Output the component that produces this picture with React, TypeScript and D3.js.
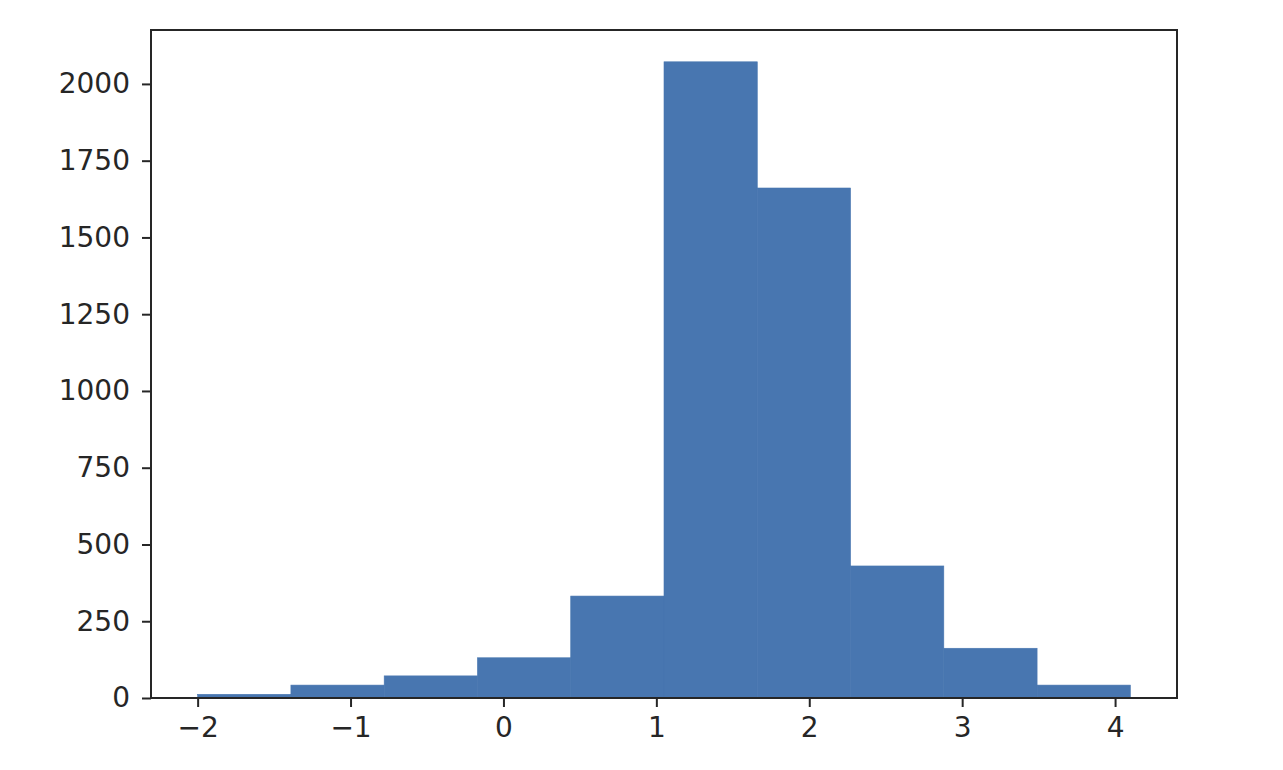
import React, { useEffect, useRef } from 'react';
import * as d3 from 'd3';

// histogram bin edges and counts
const binEdges = [-2.0, -1.39, -0.78, -0.17, 0.44, 1.05, 1.66, 2.27, 2.88, 3.49, 4.1];
const binCounts = [12, 42, 72, 131, 332, 2072, 1661, 430, 162, 42];
const xTicks = [-2, -1, 0, 1, 2, 3, 4];
const yTicks = [0, 250, 500, 750, 1000, 1250, 1500, 1750, 2000];

const App = () => {
  const svgRef = useRef<SVGSVGElement>(null);

  useEffect(() => {
    const W = 1283;
    const H = 770;
    const margin = { top: 30, right: 106, bottom: 72, left: 151 };
    const width = W - margin.left - margin.right;
    const height = H - margin.top - margin.bottom;

    const svg = d3.select(svgRef.current)
      .attr('width', W)
      .attr('height', H)
      .html('');

    svg.append('rect').attr('width', W).attr('height', H).attr('fill', '#fff');

    const g = svg.append('g').attr('transform', `translate(${margin.left},${margin.top})`);

    const span = binEdges[binEdges.length - 1] - binEdges[0];
    const x = d3.scaleLinear()
      .domain([binEdges[0] - span * 0.05, binEdges[binEdges.length - 1] + span * 0.05])
      .range([0, width]);
    const y = d3.scaleLinear()
      .domain([0, d3.max(binCounts)! * 1.05])
      .range([height, 0]);

    const bins = binCounts.map((c, i) => ({ x0: binEdges[i], x1: binEdges[i + 1], count: c }));

    g.selectAll('rect.bar')
      .data(bins)
      .enter()
      .append('rect')
      .attr('class', 'bar')
      .attr('x', d => x(d.x0))
      .attr('width', d => x(d.x1) - x(d.x0))
      .attr('y', d => y(d.count))
      .attr('height', d => height - y(d.count))
      .attr('fill', '#4876b0')
      .attr('stroke', '#4876b0')
      .attr('stroke-width', 0.6);

    const font = '"DejaVu Sans", sans-serif';

    const xAxis = g.append('g')
      .attr('transform', `translate(0,${height})`)
      .call(d3.axisBottom(x).tickValues(xTicks).tickSize(9).tickPadding(10)
        .tickFormat(d => (+d < 0 ? '\u2212' + Math.abs(+d) : String(d))));
    const yAxis = g.append('g')
      .call(d3.axisLeft(y).tickValues(yTicks).tickSize(9).tickPadding(12)
        .tickFormat(d => String(d)));

    [xAxis, yAxis].forEach(a => {
      a.select('.domain').remove();
      a.selectAll('.tick line').attr('stroke', '#262626').attr('stroke-width', 2);
      a.selectAll('.tick text')
        .attr('fill', '#262626')
        .style('font-family', font)
        .style('font-size', '28px');
    });

    // frame
    g.append('rect')
      .attr('width', width)
      .attr('height', height)
      .attr('fill', 'none')
      .attr('stroke', '#262626')
      .attr('stroke-width', 2);
  }, []);

  return (
    <div style={{ margin: -8 }}>
      <svg ref={svgRef} style={{ display: 'block' }}></svg>
    </div>
  );
};

export default App;
